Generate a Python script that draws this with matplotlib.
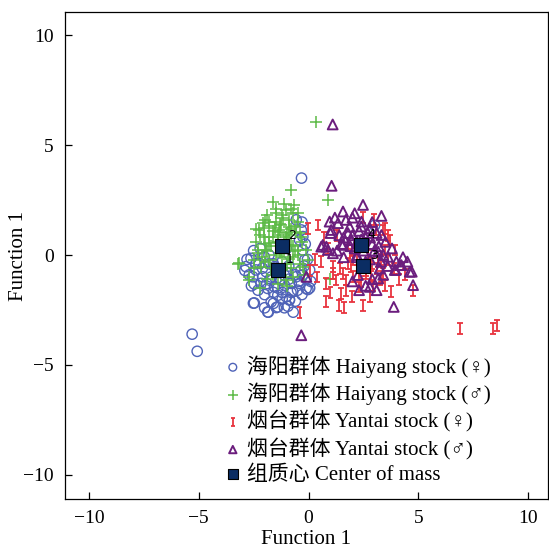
import matplotlib
matplotlib.use("Agg")
import matplotlib.pyplot as plt
from matplotlib.path import Path

FONTS = ["Liberation Serif", "Noto Sans CJK SC", "DejaVu Sans"]

# Haiyang stock, female (open circles)
hf_x = [-2.62, -2.85, -2.39, -2.54, -2.09, -1.78, -2.16, -1.86, -1.55, -1.10,
        -0.79, -0.41, -0.11, -0.34, 0.05, -0.72, -1.40, -1.02, -1.70, -1.86,
        -2.47, -1.40, -0.87, -0.11, -0.56, -0.33, -0.41, -0.26, -0.18, -2.24,
        -2.01, -1.55, -1.93, -1.10, -0.56, -1.25, -2.47, -5.30, -5.07, -2.51,
        -1.83, -0.32, -0.03, -1.47, -0.94, -0.87, -0.26, -0.27, 0.05, 3.01,
        -1.8, -1.2, -0.9, -1.6, -2.2, -1.0,
        -2.7, -2.3, -2.0, -1.6, -1.2, -0.8, -0.5, -0.3, -2.6, -2.8,
        -2.5, -2.1, -1.7, -1.3, -0.9, -0.6, -0.2, -1.5, -1.0, -1.9,
        -1.2, -0.6, -1.6, -2.0, -0.15, -0.05, -0.3, -2.4, -1.4, -0.45,
        0.1, -2.9, -1.8, -1.1, -0.7]
hf_y = [-0.15, -0.53, -0.68, -0.99, -0.99, -1.14, -1.29, -1.52, -1.45, -1.37,
        -1.29, -1.29, -1.07, -0.68, -0.68, -1.67, -1.83, -1.90, -2.13, -2.59,
        -2.18, -2.36, -2.05, -1.52, 1.60, 1.14, 0.69, 0.23, -0.23, -0.38,
        -0.08, -0.53, -0.76, -0.91, -0.99, -1.14, -1.32, -3.60, -4.38, -2.19,
        -2.60, 3.50, -1.57, -2.39, -2.33, -2.02, 0.84, -0.91, -1.50, 1.35,
        0.0, -0.3, -0.5, -0.4, 0.3, 0.3,
        -0.9, -1.6, -1.8, -1.7, -1.7, -1.7, -1.6, -1.8, -1.4, -0.2,
        0.2, -0.6, -1.0, -1.1, -1.1, -0.9, -0.5, -0.6, -0.8, -1.3,
        -2.0, -2.1, -2.2, -2.4, 0.5, -0.2, 1.5, -0.4, -1.5, -1.2,
        -1.2, -0.7, -0.4, -2.4, -2.6]

# Haiyang stock, male (plus)
hm_x = [-0.79, 0.88, -0.64, -0.49, -1.48, -1.78, -2.09, -2.24, -2.39, -2.31,
        -3.15, -2.69, -2.47, -2.01, -1.17, -0.87, -0.34, -0.11, -0.03, -0.26,
        -1.02, 0.96, -1.55, -1.78, -1.93, -1.02, -1.32, -0.56, -0.79, -1.78,
        -2.16, -0.72, -0.49, -1.63, -1.25, -1.02, -2.01, 0.32, -3.2, -2.7,
        -1.4, -1.1, -0.9, -1.6, -1.3, -0.7, -1.8, -1.2, -0.6, -1.5,
        -2.0, -0.9, -1.0, -1.7, -0.5,
        -1.9, -1.5, -1.1, -0.7, -0.5, -2.2, -2.3, -2.0, -1.6, -1.2,
        -0.8, -0.4, -0.3, -0.4, -0.8, -1.0, -1.4, -1.7, -1.9, -2.1,
        -1.3, -0.9, -0.6, -1.1, -1.5, -1.8, -2.0, -1.2, -0.8, -1.6,
        -2.4, -2.5, -1.9, -1.4, -0.7, -0.2, -1.0, -2.2, -1.35, -0.95]
hm_y = [2.97, 2.51, 2.28, 1.90, 1.90, 1.52, 1.45, 1.14, 0.61, 0.23,
        -0.38, -0.99, -0.23, 0.84, 1.67, 1.29, 0.84, 0.23, -0.23, -0.53,
        -1.14, -1.07, 1.22, 0.53, 0.23, 0.84, 1.07, 1.07, 0.46, -0.23,
        -0.53, -0.08, 0.23, 0.84, 1.37, 2.05, 1.22, 6.07, -0.40, -1.14,
        0.6, 0.2, 0.9, 1.1, 1.4, 0.4, 0.8, -0.1, 1.3, 0.0,
        0.5, 1.6, -0.4, -0.6, 0.0,
        1.8, 2.1, 2.3, 1.9, 1.5, 0.9, 0.1, -0.3, -0.9, -0.7,
        -0.6, -0.4, 0.6, 1.0, 1.2, 1.0, 0.9, 0.4, 0.2, -0.1,
        0.1, -0.2, 0.2, 0.6, 1.5, 1.3, 1.6, 1.8, 2.1, 2.4,
        1.2, -0.6, -1.1, -1.3, -1.0, -0.9, -1.4, -1.5, 1.15, 0.45]

# Yantai stock, female (I-beam)
yf_x = [0.43, -0.03, 0.58, 0.05, 1.11, 1.11, 1.42, 1.57, 1.26, 1.72,
        1.49, 0.81, 1.39, 2.30, 2.48, 2.03, 1.95, 1.87, 1.80, 3.47,
        3.47, 3.09, 3.93, 3.40, 3.24, 2.86, 2.94, 2.63, 3.17, 3.62,
        2.03, 3.70, 3.77, 4.76, 3.32, 3.38, -0.41, 6.90, 8.40, 8.58,
        2.2, 2.6, 2.9, 2.3, 2.0, 3.1, 2.7, 1.8, 2.4, 3.3,
        0.7, 0.4, 0.3, 0.8, 1.0, 1.7, 2.0, 2.8, 3.5, 3.9,
        4.1, 3.0, 2.5, 1.3, 0.9, 4.4, 1.6, 3.6]
yf_y = [1.37, 1.22, -0.30, -0.69, -0.53, -0.84, -0.61, -0.84, -1.14, -1.14,
        -1.75, -2.13, -2.28, -1.45, -2.28, -0.99, -0.53, -0.08, 0.53, 0.23,
        1.22, 1.14, 0.23, -0.84, -1.14, -0.99, -1.37, -0.84, -0.30, -0.23,
        -0.23, 0.68, -1.67, -1.60, -0.99, 1.14, -2.60, -3.33, -3.33, -3.20,
        -0.2, -0.7, -0.4, -0.9, 0.2, -0.6, 0.0, -0.4, -1.2, -0.2,
        0.8, -1.0, -0.2, -1.3, -1.7, -1.6, -1.9, -1.9, -1.4, -0.6,
        -1.1, 1.6, 1.7, 0.9, 0.3, -0.9, -2.4, 0.9]

# Yantai stock, male (open triangles)
ym_x = [2.48, 1.57, 2.10, 3.32, 0.96, 1.34, 1.03, 1.87, 2.41, 2.79,
        3.32, 0.65, 1.11, 0.88, 1.57, 1.95, 3.17, 3.40, 3.62, 4.00,
        4.16, 3.93, 4.61, 4.76, 3.24, 3.17, 2.79, 2.25, 3.88, -0.33,
        2.0, 2.2, 2.6, 2.9, 2.5, 1.8, 2.3, 2.7, 3.0, 2.1,
        1.6, 2.8, 1.05, -0.10, 0.81, 0.58, 1.10, 4.70, 4.23, 3.97,
        1.0, 1.4, 1.3, 1.6, 1.9, 2.4, 2.9, 3.1, 3.5, 3.8,
        4.3, 4.5, 3.6, 3.4, 2.9, 2.6, 2.3, 2.0, 3.1, 3.3,
        2.6, 2.2, 1.7, 2.0, 1.2, 2.2, 2.4, 2.8, 3.2, 1.5]
ym_y = [2.28, 1.98, 1.90, 1.78, 1.52, 1.45, 1.14, 1.29, 1.52, 1.22,
        0.91, 0.46, 0.08, 0.23, 0.46, 0.68, 0.15, 0.00, -0.08, -0.30,
        -0.46, -0.68, -0.76, -1.37, -0.61, -1.07, -1.45, -0.91, -2.36, -3.65,
        0.9, 0.6, 0.8, 0.5, 0.2, 1.0, 1.1, 1.0, 0.2, 0.3,
        0.8, -0.2, 3.15, -0.99, 0.38, 0.38, 5.94, -0.76, -0.46, -0.68,
        1.0, 0.9, 0.2, -0.1, 0.4, 1.3, 1.5, 1.0, 0.6, 0.3,
        -0.1, -0.3, -0.5, -0.9, -1.1, -1.4, -1.6, -1.2, -1.6, -0.3,
        -0.3, -0.1, 1.6, 1.7, 1.7, 0.0, 0.7, 0.8, 0.4, 0.5]

# group centroids
cent_x = [-1.37, -1.23, 2.47, 2.37]
cent_y = [-0.68, 0.41, -0.50, 0.46]
cent_labels = ["1", "2", "3", "4"]

labels = [
    "海阳群体 Haiyang stock (♀)",
    "海阳群体 Haiyang stock (♂)",
    "烟台群体 Yantai stock (♀)",
    "烟台群体 Yantai stock (♂)",
    "组质心 Center of mass",
]

i_beam = Path(
    [(-0.55, 1), (0.55, 1), (0, 1), (0, -1), (-0.55, -1), (0.55, -1)],
    [Path.MOVETO, Path.LINETO, Path.MOVETO, Path.LINETO, Path.MOVETO, Path.LINETO],
)

fig = plt.figure(figsize=(5.49, 5.52), dpi=100)
ax = fig.add_axes([0.118, 0.096, 0.880, 0.882])

ax.scatter(hf_x, hf_y, s=55, facecolors="none", edgecolors="#4f63b8", linewidths=1.0, label=labels[0])
ax.scatter(hm_x, hm_y, s=75, marker="+", color="#5dba47", linewidths=1.1, label=labels[1])
ax.scatter(yf_x, yf_y, s=60, marker=i_beam, facecolors="none", edgecolors="#e8343f", linewidths=1.3, label=labels[2])
ax.scatter(ym_x, ym_y, s=50, marker="^", facecolors="none", edgecolors="#6b1d7d", linewidths=1.4, label=labels[3])
ax.scatter(cent_x, cent_y, s=100, marker="s", color="#0b2d63", edgecolors="black", linewidths=0.8, label=labels[4], zorder=5)

for x, y, t in zip(cent_x, cent_y, cent_labels):
    ax.annotate(t, (x, y), textcoords="offset points", xytext=(5, 5), fontsize=9, color="black", zorder=6)

ax.set_xlim(-11.1, 10.9)
ax.set_ylim(-11.1, 11.05)
ax.set_xticks([-10, -5, 0, 5, 10])
ax.set_yticks([-10, -5, 0, 5, 10])
ax.set_xticklabels(["\u221210", "\u22125", "0", "5", "10"])
ax.set_yticklabels(["\u221210", "\u22125", "0", "5", "10"])
ax.tick_params(direction="in", length=5, width=0.9, labelsize=14, top=False, right=False)
ax.tick_params(axis="x", pad=8)
ax.tick_params(axis="y", pad=8)
for lab in ax.get_xticklabels() + ax.get_yticklabels():
    lab.set_family(FONTS)

ax.set_xlabel("Function 1", fontsize=15, family=FONTS, labelpad=2)
ax.set_ylabel("Function 1", fontsize=15, family=FONTS)
ax.yaxis.set_label_coords(-0.077, 0.5)
for spine in ax.spines.values():
    spine.set_linewidth(0.9)

leg = ax.legend(
    loc="lower left",
    bbox_to_anchor=(0.309, 0.012),
    frameon=False,
    prop={"family": FONTS, "size": 15},
    handletextpad=0.16,
    labelspacing=0.25,
    borderaxespad=0.0,
    handlelength=1.0,
    markerscale=0.75,
)

fig.savefig("out.png", dpi=100)
